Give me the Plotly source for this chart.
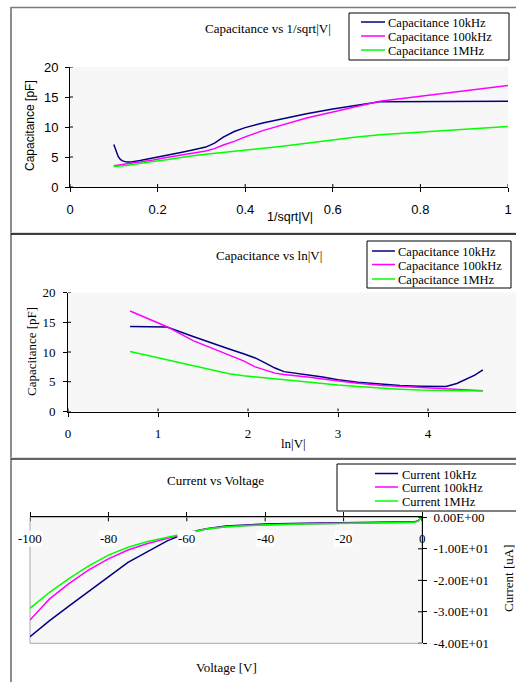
import plotly.graph_objects as go

# ---------------------------------------------------------------- data
# Panel 1: capacitance against 1/sqrt|V|
inv_sqrt_v = [0.100, 0.105, 0.110, 0.115, 0.120, 0.130, 0.140, 0.160, 0.190, 0.220,
              0.250, 0.280, 0.310, 0.330, 0.350, 0.375, 0.400, 0.440, 0.480, 0.540,
              0.600, 0.650, 0.707, 1.000]
cap1_10k = [7.1, 6.0, 5.1, 4.6, 4.35, 4.15, 4.15, 4.4, 4.8, 5.2,
            5.7, 6.15, 6.65, 7.3, 8.3, 9.25, 9.9, 10.65, 11.3, 12.2,
            13.0, 13.55, 14.2, 14.3]
cap1_100k = [3.55, 3.6, 3.65, 3.7, 3.75, 3.85, 3.95, 4.15, 4.5, 4.9,
             5.3, 5.7, 6.0, 6.4, 7.0, 7.6, 8.35, 9.4, 10.2, 11.5,
             12.5, 13.3, 14.3, 16.9]
cap1_1m = [3.4, 3.42, 3.45, 3.48, 3.52, 3.6, 3.7, 3.95, 4.25, 4.55,
           4.9, 5.2, 5.45, 5.6, 5.75, 5.95, 6.1, 6.45, 6.75, 7.3,
           7.85, 8.3, 8.7, 10.1]

# Panel 2: capacitance against ln|V|
ln_v = [0.69, 1.10, 1.39, 1.61, 1.79, 1.95, 2.08, 2.20, 2.30, 2.40, 2.56, 2.71,
        2.83, 3.00, 3.22, 3.50, 3.69, 3.91, 4.09, 4.20, 4.32, 4.43, 4.52, 4.61]
cap2_10k = [14.3, 14.2, 12.6, 11.4, 10.5, 9.7, 9.0, 8.1, 7.3, 6.7, 6.3, 6.05,
            5.8, 5.35, 4.9, 4.5, 4.35, 4.25, 4.2, 4.2, 4.7, 5.4, 6.1, 7.0]
cap2_100k = [16.9, 14.25, 11.9, 10.6, 9.5, 8.5, 7.5, 6.95, 6.45, 6.2, 6.0, 5.7,
             5.45, 5.1, 4.75, 4.35, 4.2, 4.05, 3.9, 3.75, 3.65, 3.58, 3.52, 3.5]
cap2_1m = [10.1, 8.7, 7.65, 6.9, 6.35, 6.0, 5.8, 5.6, 5.45, 5.3, 5.05, 4.8,
           4.65, 4.45, 4.2, 3.9, 3.75, 3.6, 3.55, 3.5, 3.48, 3.46, 3.45, 3.44]

# Panel 3: current against voltage
voltage = [-100, -95, -90, -85, -80, -75, -70, -65, -60, -55, -50, -45, -40,
           -30, -20, -10, -2, -1, 0]
cur_10k = [-37.9, -32.8, -28.1, -23.4, -18.9, -14.3, -10.9, -7.5, -4.9, -3.6, -2.8,
           -2.4, -2.1, -1.85, -1.7, -1.55, -1.45, -1.1, 0.0]
cur_100k = [-32.6, -25.9, -21.0, -16.7, -13.2, -10.4, -8.3, -6.6, -5.1, -3.7, -3.0,
            -2.6, -2.35, -2.05, -1.85, -1.7, -1.6, -1.2, 0.0]
cur_1m = [-28.9, -23.8, -19.4, -15.4, -12.0, -9.5, -7.7, -6.3, -5.0, -3.7, -3.0,
          -2.7, -2.4, -2.1, -1.9, -1.75, -1.6, -1.2, 0.0]

cap_names = ["Capacitance 10kHz", "Capacitance 100kHz", "Capacitance 1MHz"]
cur_names = ["Current 10kHz", "Current 100kHz", "Current 1MHz"]
colors = ["#000080", "#ff00ff", "#00ff00"]

x1_ticks = [0, 0.2, 0.4, 0.6, 0.8, 1]
cap_ticks = [0, 5, 10, 15, 20]
x2_ticks = [0, 1, 2, 3, 4]
volt_ticks = [-100, -80, -60, -40, -20, 0]
volt_labels = ["-100", "-80", "-60", "-40", "-20", "0"]
cur_ticks = [0, -10, -20, -30, -40]
cur_labels = ["0.00E+00", "-1.00E+01", "-2.00E+01", "-3.00E+01", "-4.00E+01"]

# ---------------------------------------------------------------- helpers
W, H = 516, 682
SERIF = "Liberation Serif, Times New Roman, serif"
SANS = "Liberation Sans, Arial, sans-serif"


def px(x):
    return x / W


def py(y):
    return 1 - y / H


fig = go.Figure()

panels = [
    (inv_sqrt_v, [cap1_10k, cap1_100k, cap1_1m], "x", "y"),
    (ln_v, [cap2_10k, cap2_100k, cap2_1m], "x2", "y2"),
    (voltage, [cur_10k, cur_100k, cur_1m], "x3", "y3"),
]
for xs, series, xa, ya in panels:
    for ys, col in zip(series, colors):
        fig.add_trace(go.Scatter(x=xs, y=ys, mode="lines", xaxis=xa, yaxis=ya,
                                 line=dict(color=col, width=1.5),
                                 showlegend=False, hoverinfo="skip"))

# fixed page layout: axes must not push the margins
axis_common = dict(showgrid=False, zeroline=False, showline=True, linecolor="black",
                   linewidth=1, ticks="outside", ticklen=4, tickcolor="black",
                   tickwidth=1, fixedrange=True, automargin=False)

# ln|V| axis: 0 at x=68, 90 px per unit, cut by the page edge
ln_max = (W - 68) / 90

fig.update_layout(
    width=W, height=H, autosize=False,
    margin=dict(l=0, r=0, t=0, b=0, pad=0, autoexpand=False),
    paper_bgcolor="white", plot_bgcolor="#f7f7f7",
    showlegend=False,
    xaxis=dict(domain=[px(70), px(508)], range=[0, 1], anchor="y",
               tickvals=x1_ticks, tickfont=dict(family=SANS, size=13, color="black"),
               ticklabelstandoff=6, **axis_common),
    yaxis=dict(domain=[py(187), py(67)], range=[0, 20], anchor="x",
               tickvals=cap_ticks, tickfont=dict(family=SANS, size=13, color="black"),
               ticklabelstandoff=4, **axis_common),
    xaxis2=dict(domain=[px(68), 1.0], range=[0, ln_max], anchor="y2",
                tickvals=x2_ticks, tickfont=dict(family=SERIF, size=13, color="black"),
                ticklabelstandoff=6, **axis_common),
    yaxis2=dict(domain=[py(411.5), py(292.5)], range=[0, 20], anchor="x2",
                tickvals=cap_ticks, tickfont=dict(family=SERIF, size=13, color="black"),
                ticklabelstandoff=5, **axis_common),
    xaxis3=dict(domain=[px(30), px(422)], range=[-100, 0], anchor="y3", side="top",
                tickvals=volt_ticks, showticklabels=False, **axis_common),
    yaxis3=dict(domain=[py(643.3), py(517.3)], range=[-40, 0], anchor="x3",
                side="right", tickvals=cur_ticks, ticktext=cur_labels,
                tickfont=dict(family=SERIF, size=13, color="black"),
                ticklabelstandoff=4, **axis_common),
)

shapes = []
annotations = []

# inner halves of the crossing tick marks
for t in x1_ticks:
    shapes.append(dict(type="line", xref="x", yref="y", x0=t, x1=t, ysizemode="pixel",
                       yanchor=0, y0=0, y1=3, line=dict(color="black", width=1)))
for v in cap_ticks:
    shapes.append(dict(type="line", xref="x", yref="y", y0=v, y1=v, xsizemode="pixel",
                       xanchor=0, x0=0, x1=3, line=dict(color="black", width=1)))
    shapes.append(dict(type="line", xref="x2", yref="y2", y0=v, y1=v, xsizemode="pixel",
                       xanchor=0, x0=0, x1=3, line=dict(color="black", width=1)))
for t in x2_ticks:
    shapes.append(dict(type="line", xref="x2", yref="y2", x0=t, x1=t, ysizemode="pixel",
                       yanchor=0, y0=0, y1=3, line=dict(color="black", width=1)))
for t in volt_ticks:
    shapes.append(dict(type="line", xref="x3", yref="y3", x0=t, x1=t, ysizemode="pixel",
                       yanchor=0, y0=0, y1=-4, line=dict(color="black", width=1)))
for v in cur_ticks:
    shapes.append(dict(type="line", xref="x3", yref="y3", y0=v, y1=v, xsizemode="pixel",
                       xanchor=0, x0=0, x1=-4, line=dict(color="black", width=1)))

# plot-area frame of the current panel
shapes.append(dict(type="rect", xref="x3 domain", yref="y3 domain", x0=0, x1=1, y0=0, y1=1,
                   line=dict(color="#a8a8a8", width=1), layer="below"))

# chart-object frames
shapes += [
    dict(type="line", xref="paper", yref="paper", x0=px(11), x1=px(11), y0=py(7), y1=0,
         line=dict(color="#8c8c8c", width=2)),
    dict(type="line", xref="paper", yref="paper", x0=px(11), x1=1, y0=py(7.5), y1=py(7.5),
         line=dict(color="#7a7a7a", width=1.5)),
    dict(type="line", xref="paper", yref="paper", x0=px(11), x1=1, y0=py(232.8), y1=py(232.8),
         line=dict(color="#cccccc", width=1)),
    dict(type="line", xref="paper", yref="paper", x0=px(11), x1=1, y0=py(234), y1=py(234),
         line=dict(color="black", width=1.5)),
    dict(type="line", xref="paper", yref="paper", x0=px(11), x1=1, y0=py(457.8), y1=py(457.8),
         line=dict(color="#cccccc", width=1)),
    dict(type="line", xref="paper", yref="paper", x0=px(11), x1=1, y0=py(459), y1=py(459),
         line=dict(color="#333333", width=1.5)),
]


def legend_box(box, x_line, x_text, rows, names):
    x0, y0, x1, y1 = box
    shapes.append(dict(type="rect", xref="paper", yref="paper", x0=px(x0), x1=px(x1),
                       y0=py(y1), y1=py(y0), fillcolor="white",
                       line=dict(color="black", width=1)))
    for name, col, yr in zip(names, colors, rows):
        shapes.append(dict(type="line", xref="paper", yref="paper", x0=px(x_line[0]),
                           x1=px(x_line[1]), y0=py(yr - 1), y1=py(yr - 1),
                           line=dict(color=col, width=1.5)))
        annotations.append(dict(xref="paper", yref="paper", x=px(x_text), y=py(yr),
                                text=name, showarrow=False, xanchor="left",
                                yanchor="middle",
                                font=dict(family=SERIF, size=12.5, color="black")))


legend_box((349, 13, 509, 60), (361, 385), 386, [23, 37, 51], cap_names)
legend_box((367, 241, 511, 288), (372, 395), 396, [252, 265.5, 280], cap_names)
legend_box((337, 464, 530, 511), (375, 398), 400, [474.5, 488, 502], cur_names)


def label(text, x, y, family=SERIF, size=13, angle=0):
    annotations.append(dict(xref="paper", yref="paper", x=px(x), y=py(y), text=text,
                            showarrow=False, xanchor="center", yanchor="middle",
                            textangle=angle,
                            font=dict(family=family, size=size, color="black")))


# titles
label("Capacitance vs 1/sqrt|V|", 268, 29)
label("Capacitance vs ln|V|", 269, 255)
label("Current vs Voltage", 215, 480)

# axis titles
label("1/sqrt|V|", 290, 217, family=SANS, size=12.5)
label("Capacitance [pF]", 30, 126, family=SANS, size=12, angle=-90)
label("ln|V|", 293, 443)
label("Capacitance [pF]", 31, 352, angle=-90)
label("Voltage [V]", 226, 667)
label("Current [uA]", 508, 578, angle=-90)

# voltage tick labels sit inside the plot on white boxes
for t, txt in zip(volt_ticks, volt_labels):
    annotations.append(dict(xref="x3", yref="y3", x=t, y=-6.6, text=txt, showarrow=False,
                            xanchor="center", yanchor="middle",
                            bgcolor="white" if t != 0 else "rgba(0,0,0,0)", borderpad=0,
                            font=dict(family=SERIF, size=13, color="black")))

fig.update_layout(shapes=shapes, annotations=annotations)

fig.write_html("out.html", config={"displayModeBar": False, "staticPlot": True})
